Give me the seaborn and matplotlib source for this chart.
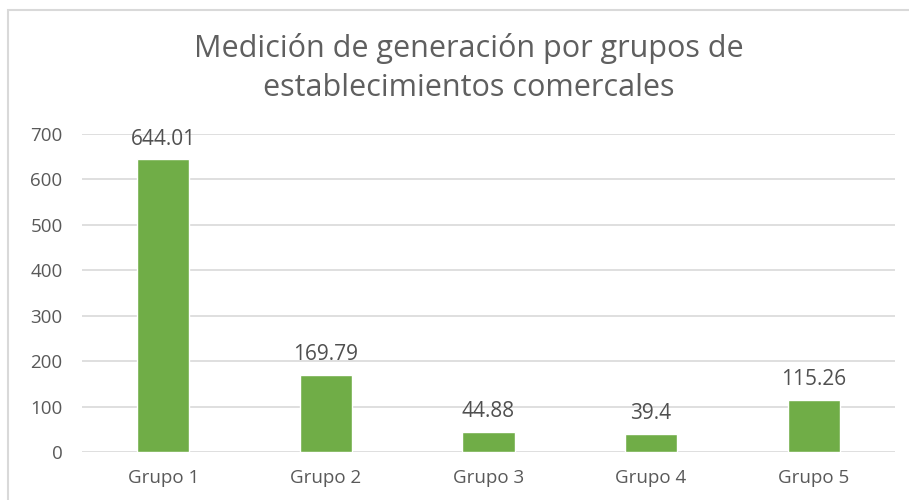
import matplotlib
matplotlib.use("Agg")
import matplotlib.pyplot as plt
import seaborn as sns
import pandas as pd
from matplotlib.patches import Rectangle

categories = ["Grupo 1", "Grupo 2", "Grupo 3", "Grupo 4", "Grupo 5"]
values = [644.01, 169.79, 44.88, 39.4, 115.26]
labels = ["644.01", "169.79", "44.88", "39.4", "115.26"]
yticks = [0, 100, 200, 300, 400, 500, 600, 700]
title = "Medición de generación por grupos de\nestablecimientos comercales"

sns.set_theme(style="white")
plt.rcParams['font.family'] = ['Open Sans', 'DejaVu Sans']

df = pd.DataFrame({"grupo": categories, "valor": values})

fig = plt.figure(figsize=(9.09, 5.0), dpi=100)
ax = fig.add_axes([82/909, 1-452/500, (895-82)/909, (452-134)/500])

sns.barplot(data=df, x="grupo", y="valor", color="#70AD47", width=0.32,
            saturation=1, ax=ax, zorder=3)

ax.set_ylim(0, 700)
ax.set_yticks(yticks)
ax.set_xlim(-0.5, len(categories)-0.5)
ax.grid(axis="y", color="#D9D9D9", linewidth=1.2, zorder=0)
for s in ax.spines.values():
    s.set_visible(False)
ax.set_xlabel("")
ax.set_ylabel("")
ax.tick_params(axis="both", length=0, labelsize=13.5, colors="#595959")
ax.tick_params(axis="y", pad=14)
ax.tick_params(axis="x", pad=12)

for p, lab in zip(ax.patches, labels):
    ax.annotate(lab, (p.get_x() + p.get_width()/2, p.get_height()),
                xytext=(0, 7), textcoords="offset points",
                ha="center", va="bottom", fontsize=15, color="#505050")

fig.text(469/909, 1-68/500, title, ha="center", va="center", fontsize=22,
         color="#5f5f5f", linespacing=1.37)

fig.patches.append(Rectangle((8/909, -0.1), 1.1, 1-10/500+0.1, transform=fig.transFigure,
                             fill=False, edgecolor="#D9D9D9", linewidth=1.5))

fig.savefig("out.png", dpi=100)
